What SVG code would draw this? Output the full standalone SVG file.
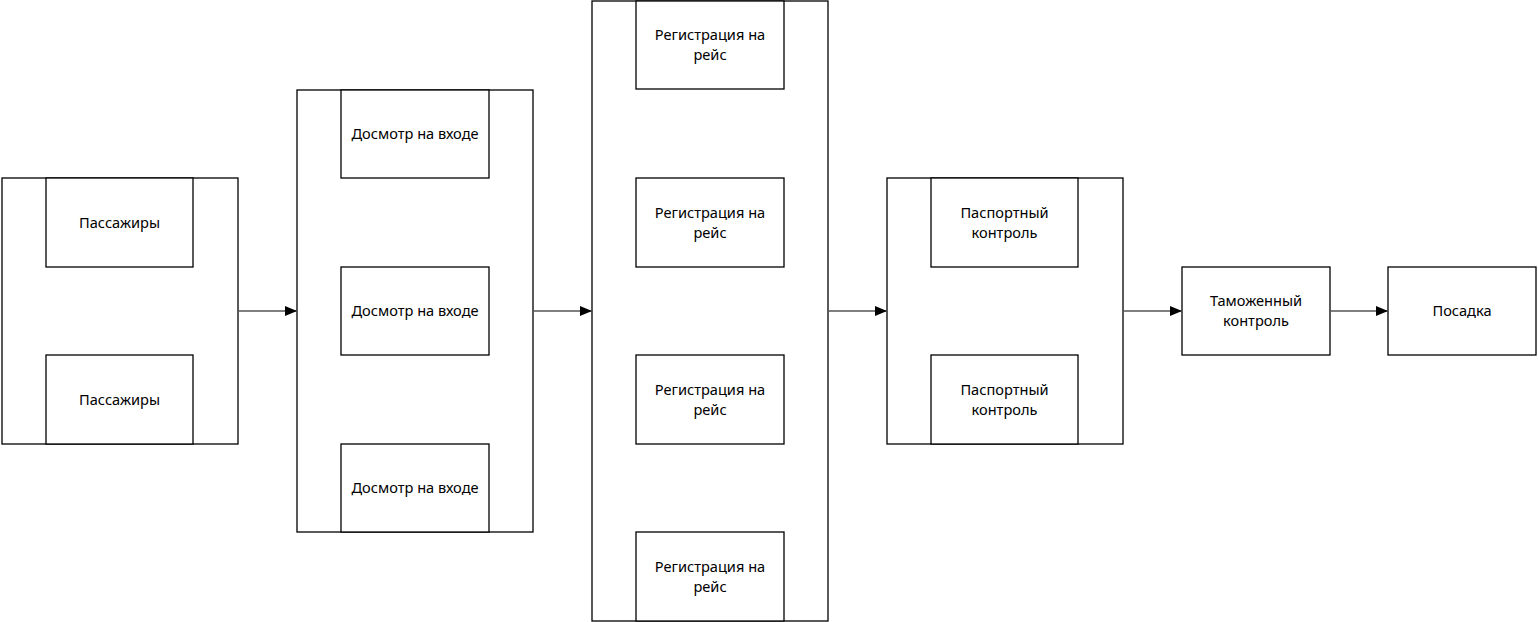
<svg xmlns="http://www.w3.org/2000/svg" width="1538" height="622" viewBox="0 0 1538 622">
  <style>
    .frame { fill: #ffffff; stroke: #000000; stroke-width: 1.3; }
    .box { fill: #ffffff; stroke: #000000; stroke-width: 1.3; }
    .label { font-family: "Noto Sans", "Open Sans", sans-serif; font-size: 14.6px; fill: #000000; text-anchor: middle; }
    .link { fill: none; stroke: #555555; stroke-width: 1.3; marker-end: url(#arrow); }
  </style>
  <defs>
    <marker id="arrow" viewBox="0 0 12 12" refX="12" refY="6" markerWidth="12" markerHeight="12" markerUnits="userSpaceOnUse" orient="auto">
      <path d="M0,1 L12,6 L0,11 Z" fill="#000000"/>
    </marker>
  </defs>

  <rect x="0" y="0" width="1538" height="622" fill="#ffffff"/>

  <!-- Stage 1: passengers -->
  <g id="stage-passengers">
    <rect class="frame" x="2" y="178" width="236" height="266"/>
    <g id="passengers-1">
      <rect class="box" x="46" y="178" width="147" height="89"/>
      <text class="label" x="119.5" y="227.5">Пассажиры</text>
    </g>
    <g id="passengers-2">
      <rect class="box" x="46" y="355" width="147" height="89"/>
      <text class="label" x="119.5" y="404.5">Пассажиры</text>
    </g>
  </g>

  <!-- Stage 2: entrance screening -->
  <g id="stage-screening">
    <rect class="frame" x="297" y="90" width="236" height="442"/>
    <g id="screening-1">
      <rect class="box" x="341" y="90" width="148" height="88"/>
      <text class="label" x="415" y="139">Досмотр на входе</text>
    </g>
    <g id="screening-2">
      <rect class="box" x="341" y="267" width="148" height="88"/>
      <text class="label" x="415" y="316">Досмотр на входе</text>
    </g>
    <g id="screening-3">
      <rect class="box" x="341" y="444" width="148" height="88"/>
      <text class="label" x="415" y="493">Досмотр на входе</text>
    </g>
  </g>

  <!-- Stage 3: check-in -->
  <g id="stage-checkin">
    <rect class="frame" x="592" y="1" width="236" height="620"/>
    <g id="checkin-1">
      <rect class="box" x="636" y="1" width="148" height="88"/>
      <text class="label" x="710" y="40">Регистрация на</text>
      <text class="label" x="710" y="60">рейс</text>
    </g>
    <g id="checkin-2">
      <rect class="box" x="636" y="178" width="148" height="89"/>
      <text class="label" x="710" y="218">Регистрация на</text>
      <text class="label" x="710" y="238">рейс</text>
    </g>
    <g id="checkin-3">
      <rect class="box" x="636" y="355" width="148" height="89"/>
      <text class="label" x="710" y="395">Регистрация на</text>
      <text class="label" x="710" y="415">рейс</text>
    </g>
    <g id="checkin-4">
      <rect class="box" x="636" y="532" width="148" height="89"/>
      <text class="label" x="710" y="572">Регистрация на</text>
      <text class="label" x="710" y="592">рейс</text>
    </g>
  </g>

  <!-- Stage 4: passport control -->
  <g id="stage-passport">
    <rect class="frame" x="887" y="178" width="236" height="266"/>
    <g id="passport-1">
      <rect class="box" x="931" y="178" width="147" height="89"/>
      <text class="label" x="1004.5" y="218">Паспортный</text>
      <text class="label" x="1004.5" y="238">контроль</text>
    </g>
    <g id="passport-2">
      <rect class="box" x="931" y="355" width="147" height="89"/>
      <text class="label" x="1004.5" y="395">Паспортный</text>
      <text class="label" x="1004.5" y="415">контроль</text>
    </g>
  </g>

  <!-- Stage 5: customs -->
  <g id="customs">
    <rect class="box" x="1182" y="267" width="148" height="88"/>
    <text class="label" x="1256" y="306">Таможенный</text>
    <text class="label" x="1256" y="326">контроль</text>
  </g>

  <!-- Stage 6: boarding -->
  <g id="boarding">
    <rect class="box" x="1388" y="267" width="148" height="88"/>
    <text class="label" x="1462" y="316">Посадка</text>
  </g>

  <!-- Connectors between stages -->
  <g id="connectors">
    <line class="link" x1="238" y1="311" x2="297" y2="311"/>
    <line class="link" x1="533" y1="311" x2="592" y2="311"/>
    <line class="link" x1="828" y1="311" x2="887" y2="311"/>
    <line class="link" x1="1123" y1="311" x2="1182" y2="311"/>
    <line class="link" x1="1330" y1="311" x2="1388" y2="311"/>
  </g>
</svg>
